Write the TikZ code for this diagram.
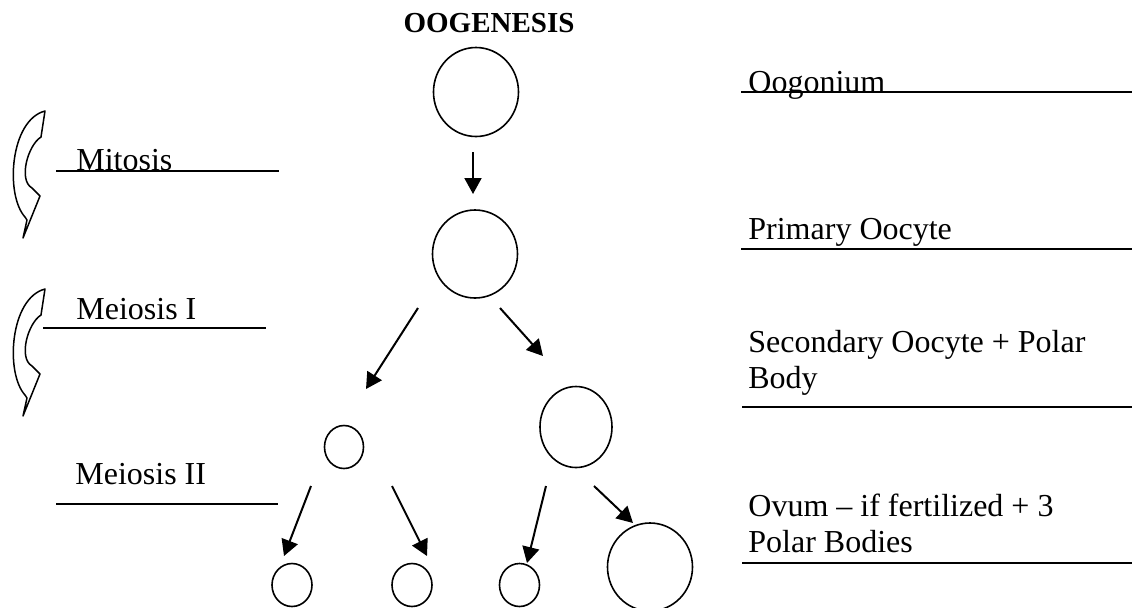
\documentclass[tikz,border=0pt]{standalone}
\usepackage{fontspec}
\setmainfont{Liberation Serif}
\usetikzlibrary{arrows.meta,shapes.geometric}

\begin{document}
\begin{tikzpicture}[x=0.5pt,y=-0.5pt,
	cell/.style={draw,ellipse,line width=0.8pt,inner sep=0pt},
	div/.style={line width=1pt,-{Triangle[length=8pt,width=8.5pt]}},
	rule/.style={line width=1pt},
	lbl/.style={anchor=base west,align=left,inner sep=0pt,font=\fontsize{16}{18}\selectfont},
	bent/.style={draw,fill=white,line width=0.75pt,line join=round}]
	\useasboundingbox (0,0) rectangle (1132,607);

	% Title
	\node[anchor=base,font=\fontsize{14.5}{17}\selectfont\bfseries] (title) at (489,32) {OOGENESIS};

	% Cells
	\node[cell,minimum width=42.5pt,minimum height=44.5pt] (oog) at (476,92) {};
	\node[cell,minimum width=42.5pt,minimum height=44pt] (prim) at (475,254) {};
	\node[cell,minimum width=19.5pt,minimum height=21.5pt] (pb1) at (344,447) {};
	\node[cell,minimum width=36pt,minimum height=40.5pt] (sec) at (576,427) {};
	\node[cell,minimum width=20pt,minimum height=21.5pt] (pb2) at (292,585) {};
	\node[cell,minimum width=20pt,minimum height=21.5pt] (pb3) at (412,585) {};
	\node[cell,minimum width=20pt,minimum height=21.5pt] (pb4) at (519.5,585) {};
	\node[cell,minimum width=42.5pt,minimum height=44pt] (ovum) at (650,567) {};

	% Arrow ends
	\coordinate (a1) at (473,152);  \coordinate (b1) at (473,194);
	\coordinate (a2) at (418,308);  \coordinate (b2) at (366,389);
	\coordinate (a3) at (500,308);  \coordinate (b3) at (543,356);
	\coordinate (a4) at (311,486);  \coordinate (b4) at (284,556);
	\coordinate (a5) at (392,486);  \coordinate (b5) at (427,556);
	\coordinate (a6) at (546,486);  \coordinate (b6) at (527,563);
	\coordinate (a7) at (594,486);  \coordinate (b7) at (633,523);

	% Arrows
	\foreach \i in {1,...,7}
		\draw[div] (a\i) -- (b\i);

	% Bent arrows on the left
	\foreach \s in {0,178}
		\draw[bent,shift={(0,\s)}] (45,111) -- (41,137)
			.. controls (28,145) and (18,180) .. (32,188)
			-- (40,196) -- (23,238) -- (27,220) -- (25,217)
			.. controls (5,195) and (10,120) .. cycle;

	% Left labels
	\node[lbl] (mit) at (76,170) {Mitosis};
	\node[lbl] (mei1) at (76,319) {Meiosis I};
	\node[lbl] (mei2) at (75,484) {Meiosis II};
	\draw[rule] (56,171) -- (279,171);
	\draw[rule] (43,328) -- (266,328);
	\draw[rule] (56,504) -- (278,504);

	% Right labels
	\node[lbl] (l1) at (748,92) {Oogonium};
	\node[lbl] (l2) at (748,239) {Primary Oocyte};
	\node[lbl] (l3) at (748,388) {Secondary Oocyte + Polar\\Body};
	\node[lbl] (l4) at (748,552) {Ovum \textendash{} if fertilized + 3\\Polar Bodies};
	\draw[rule] (741,92) -- (1132,92);
	\draw[rule] (741,249) -- (1132,249);
	\draw[rule] (742,407) -- (1132,407);
	\draw[rule] (742,563) -- (1132,563);
\end{tikzpicture}
\end{document}
